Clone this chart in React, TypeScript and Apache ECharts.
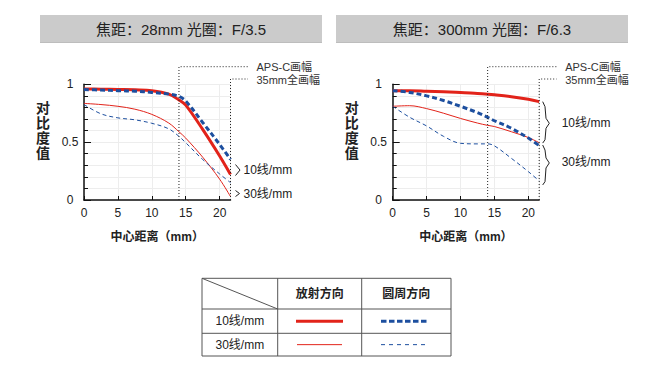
import React, { useEffect, useRef } from 'react';
import * as echarts from 'echarts';

// distance from image centre (mm)
const distances = [0, 2.5, 5, 7.5, 10, 12.5, 14, 15, 17.5, 20, 21.6];

// 28mm F/3.5
const wideRadial10 = [0.96, 0.958, 0.955, 0.952, 0.945, 0.915, 0.865, 0.82, 0.61, 0.38, 0.22];
const wideTangential10 = [0.955, 0.95, 0.945, 0.94, 0.93, 0.915, 0.895, 0.855, 0.67, 0.48, 0.35];
const wideRadial30 = [0.835, 0.825, 0.81, 0.785, 0.74, 0.665, 0.59, 0.535, 0.37, 0.18, 0.03];
const wideTangential30 = [0.825, 0.745, 0.71, 0.693, 0.663, 0.615, 0.55, 0.495, 0.35, 0.225, 0.15];

// 300mm F/6.3
const teleRadial10 = [0.945, 0.945, 0.94, 0.935, 0.93, 0.92, 0.915, 0.91, 0.893, 0.87, 0.85];
const teleTangential10 = [0.945, 0.93, 0.9, 0.86, 0.81, 0.755, 0.715, 0.685, 0.62, 0.535, 0.47];
const teleRadial30 = [0.81, 0.815, 0.79, 0.75, 0.705, 0.665, 0.645, 0.635, 0.59, 0.54, 0.495];
const teleTangential30 = [0.81, 0.715, 0.64, 0.55, 0.49, 0.485, 0.485, 0.468, 0.36, 0.245, 0.165];

const titles = ['焦距：28mm 光圈：F/3.5', '焦距：300mm 光圈：F/6.3'];
const yLabels = ['0', '0.5', '1'];
const apsc = 14;
const fullFrame = 21.6;
const rowLabels = ['10线/mm', '30线/mm'];
const colLabels = ['放射方向', '圆周方向'];

const FONT = '"Liberation Sans", "Noto Sans CJK SC", sans-serif';
const RED = '#e2231a';
const BLUE = '#1d4f9f';
const INK = '#222';
const GRIDLINE = '#ededed';

const GRID_TOP = 84.3;
const GRID_H = 115.7;
const GRID_W = 146.5;
const GRID_LEFTS = [84, 392.7];

function xAxisCfg(gridIndex: number) {
  return {
    type: 'value',
    gridIndex,
    min: 0,
    max: fullFrame,
    interval: 5,
    name: '中心距离（mm）',
    nameLocation: 'middle',
    nameGap: 31,
    nameTextStyle: { fontSize: 12, fontWeight: 'bold', color: INK, fontFamily: FONT },
    axisLine: { show: true, onZero: false, lineStyle: { color: '#111', width: 1.5 } },
    axisTick: { show: true, inside: true, length: 4, lineStyle: { color: '#111' } },
    axisLabel: {
      fontSize: 12,
      color: INK,
      margin: 7,
      fontFamily: FONT,
      showMaxLabel: false,
      formatter: (v: number) => (v % 5 === 0 ? String(v) : ''),
    },
    splitLine: { show: true, lineStyle: { color: GRIDLINE, width: 1 } },
  };
}

function yAxisCfg(gridIndex: number) {
  return {
    type: 'value',
    gridIndex,
    min: 0,
    max: 1,
    interval: 0.5,
    axisLine: { show: true, lineStyle: { color: '#111', width: 1.5 } },
    axisTick: { show: true, inside: true, length: 7, lineStyle: { color: '#111' } },
    minorTick: { show: true, splitNumber: 5, length: 4, lineStyle: { color: '#111' } },
    axisLabel: {
      fontSize: 12,
      color: INK,
      align: 'center',
      margin: 14,
      fontFamily: FONT,
      formatter: (v: number) => (v === 0 ? yLabels[0] : v === 0.5 ? yLabels[1] : v === 1 ? yLabels[2] : ''),
    },
    splitLine: { show: true, lineStyle: { color: GRIDLINE } },
    minorSplitLine: { show: true, lineStyle: { color: GRIDLINE } },
  };
}

function line(name: string, values: number[], g: number, color: string, width: number, dash: any, z: number) {
  return {
    type: 'line',
    name,
    xAxisIndex: g,
    yAxisIndex: g,
    data: distances.map((x, i) => [x, values[i]]),
    smooth: 0.35,
    symbol: 'none',
    z,
    lineStyle: { color, width, type: dash, cap: 'butt' },
  };
}

export default function App() {
  const ref = useRef<HTMLDivElement>(null);
  useEffect(() => {
    if (!ref.current) return;
    const chart = echarts.init(ref.current, null, { renderer: 'svg' });
    chart.setOption({
      animation: false,
      grid: GRID_LEFTS.map((left) => ({ left, top: GRID_TOP, width: GRID_W, height: GRID_H })),
      xAxis: [xAxisCfg(0), xAxisCfg(1)],
      yAxis: [yAxisCfg(0), yAxisCfg(1)],
      series: [
        line('r30a', wideRadial30, 0, RED, 1, 'solid', 2),
        line('t30a', wideTangential30, 0, BLUE, 1, [4, 3], 3),
        line('r10a', wideRadial10, 0, RED, 3, 'solid', 4),
        line('t10a', wideTangential10, 0, BLUE, 3, [5, 3], 5),
        line('r30b', teleRadial30, 1, RED, 1, 'solid', 2),
        line('t30b', teleTangential30, 1, BLUE, 1, [4, 3], 3),
        line('r10b', teleRadial10, 1, RED, 3, 'solid', 4),
        line('t10b', teleTangential10, 1, BLUE, 3, [5, 3], 5),
      ],
    });

    const px = (g: number, x: number, y: number) => chart.convertToPixel({ gridIndex: g }, [x, y]) as number[];
    const graphic: any[] = [];
    const txt = (text: string, x: number, y: number, size: number, opts: any = {}) => ({
      type: 'text',
      x,
      y,
      z: 10,
      style: {
        text,
        fontSize: size,
        fontFamily: FONT,
        fill: INK,
        textAlign: 'left',
        verticalAlign: 'middle',
        ...opts,
      },
    });
    const poly = (points: number[][], stroke: string, lineWidth: number, lineDash?: number[]) => ({
      type: 'polyline',
      z: 10,
      shape: { points },
      style: { stroke, lineWidth, lineDash, fill: null },
    });

    // title bars
    const bars = [
      [40, 322],
      [336, 628],
    ];
    bars.forEach(([a, b], i) => {
      graphic.push({ type: 'rect', z: 1, shape: { x: a, y: 15, width: b - a, height: 28 }, style: { fill: '#cbcbcb' } });
      graphic.push({ type: 'line', z: 1, shape: { x1: a, y1: 42.5, x2: b, y2: 42.5 }, style: { stroke: '#bdbdbd', lineWidth: 1 } });
      graphic.push(txt(titles[i], (a + b) / 2, 29.5, 15, { textAlign: 'center' }));
    });

    [0, 1].forEach((g) => {
      const [x0, yb] = px(g, 0, 0);
      const [, yTop] = px(g, 0, 1);
      const [x14] = px(g, apsc, 0);
      const [xEnd] = px(g, fullFrame, 0);
      const yA = yTop - 17.6;
      const yF = yTop - 5.3;
      graphic.push(poly([[x14, yb], [x14, yA], [x14 + 69, yA]], '#222', 1, [1, 2]));
      graphic.push(poly([[xEnd, yb], [xEnd, yF], [x14 + 69, yF]], '#222', 1, [1, 2]));
      graphic.push(txt('APS-C画幅', x14 + 77.5, yA, 11, { fill: '#333' }));
      graphic.push(txt('35mm全画幅', x14 + 77.5, yF + 0.5, 11, { fill: '#333' }));
      // y axis name
      graphic.push(
        txt('对\n比\n度\n值', x0 - 41, (yb + yTop) / 2 - 12, 14, {
          textAlign: 'center',
          fontWeight: 'bold',
          lineHeight: 15,
        })
      );
      if (g === 0) {
        const [, y10] = px(g, fullFrame, 0.259);
        const [, y30] = px(g, fullFrame, 0.056);
        graphic.push(poly([[xEnd + 5, y10 - 5.5], [xEnd + 9.5, y10], [xEnd + 5, y10 + 5.5]], '#222', 1));
        graphic.push(poly([[xEnd + 5, y30 - 3], [xEnd + 9, y30], [xEnd + 5, y30 + 3]], '#222', 1));
        graphic.push(txt(rowLabels[0], xEnd + 13, y10, 12));
        graphic.push(txt(rowLabels[1], xEnd + 13, y30, 12));
      } else {
        const brace = (vTop: number, vTip: number, vBot: number) => {
          const [, t] = px(g, fullFrame, vTop);
          const [, m] = px(g, fullFrame, vTip);
          const [, b] = px(g, fullFrame, vBot);
          return poly(
            [
              [xEnd + 3.5, t],
              [xEnd + 5.8, t + 5],
              [xEnd + 6.8, m - 5],
              [xEnd + 10.1, m],
              [xEnd + 6.8, m + 5],
              [xEnd + 5.8, b - 3.3],
              [xEnd + 3.5, b],
            ],
            '#222',
            1
          );
        };
        graphic.push(brace(0.85, 0.663, 0.492));
        graphic.push(brace(0.475, 0.32, 0.13));
        const [, m1] = px(g, fullFrame, 0.663);
        const [, m2] = px(g, fullFrame, 0.33);
        graphic.push(txt(rowLabels[0], xEnd + 22.5, m1, 12));
        graphic.push(txt(rowLabels[1], xEnd + 22.5, m2, 12));
      }
    });

    // legend table
    const tx = [202, 277.7, 361.7, 451];
    const ty = [278.3, 309, 333.3, 356];
    const border = '#555';
    graphic.push({ type: 'rect', z: 5, shape: { x: tx[0], y: ty[0], width: tx[3] - tx[0], height: ty[3] - ty[0] }, style: { fill: '#fff', stroke: border, lineWidth: 1 } });
    [tx[1], tx[2]].forEach((x) => graphic.push({ type: 'line', z: 6, shape: { x1: x, y1: ty[0], x2: x, y2: ty[3] }, style: { stroke: border, lineWidth: 1 } }));
    [ty[1], ty[2]].forEach((y) => graphic.push({ type: 'line', z: 6, shape: { x1: tx[0], y1: y, x2: tx[3], y2: y }, style: { stroke: border, lineWidth: 1 } }));
    graphic.push({ type: 'line', z: 6, shape: { x1: tx[0], y1: ty[0], x2: tx[1], y2: ty[1] }, style: { stroke: border, lineWidth: 1 } });
    graphic.push(txt(colLabels[0], (tx[1] + tx[2]) / 2, (ty[0] + ty[1]) / 2, 12, { textAlign: 'center', fontWeight: 'bold' }));
    graphic.push(txt(colLabels[1], (tx[2] + tx[3]) / 2, (ty[0] + ty[1]) / 2, 12, { textAlign: 'center', fontWeight: 'bold' }));
    const r1 = (ty[1] + ty[2]) / 2;
    const r2 = (ty[2] + ty[3]) / 2;
    graphic.push(txt(rowLabels[0], (tx[0] + tx[1]) / 2, r1, 12, { textAlign: 'center' }));
    graphic.push(txt(rowLabels[1], (tx[0] + tx[1]) / 2, r2, 12, { textAlign: 'center' }));
    graphic.push({ type: 'line', z: 6, shape: { x1: 296, y1: r1, x2: 343, y2: r1 }, style: { stroke: RED, lineWidth: 3 } });
    graphic.push({ type: 'line', z: 6, shape: { x1: 297, y1: r2, x2: 342, y2: r2 }, style: { stroke: RED, lineWidth: 1 } });
    graphic.push({ type: 'line', z: 6, shape: { x1: 381, y1: r1, x2: 429, y2: r1 }, style: { stroke: BLUE, lineWidth: 3, lineDash: [5.5, 2.5] } });
    graphic.push({ type: 'line', z: 6, shape: { x1: 381, y1: r2, x2: 429, y2: r2 }, style: { stroke: BLUE, lineWidth: 1, lineDash: [4, 4] } });

    chart.setOption({ graphic });
    return () => chart.dispose();
  }, []);
  return <div ref={ref} style={{ position: 'fixed', left: 0, top: 0, width: 665, height: 371, background: '#fff' }} />;
}
